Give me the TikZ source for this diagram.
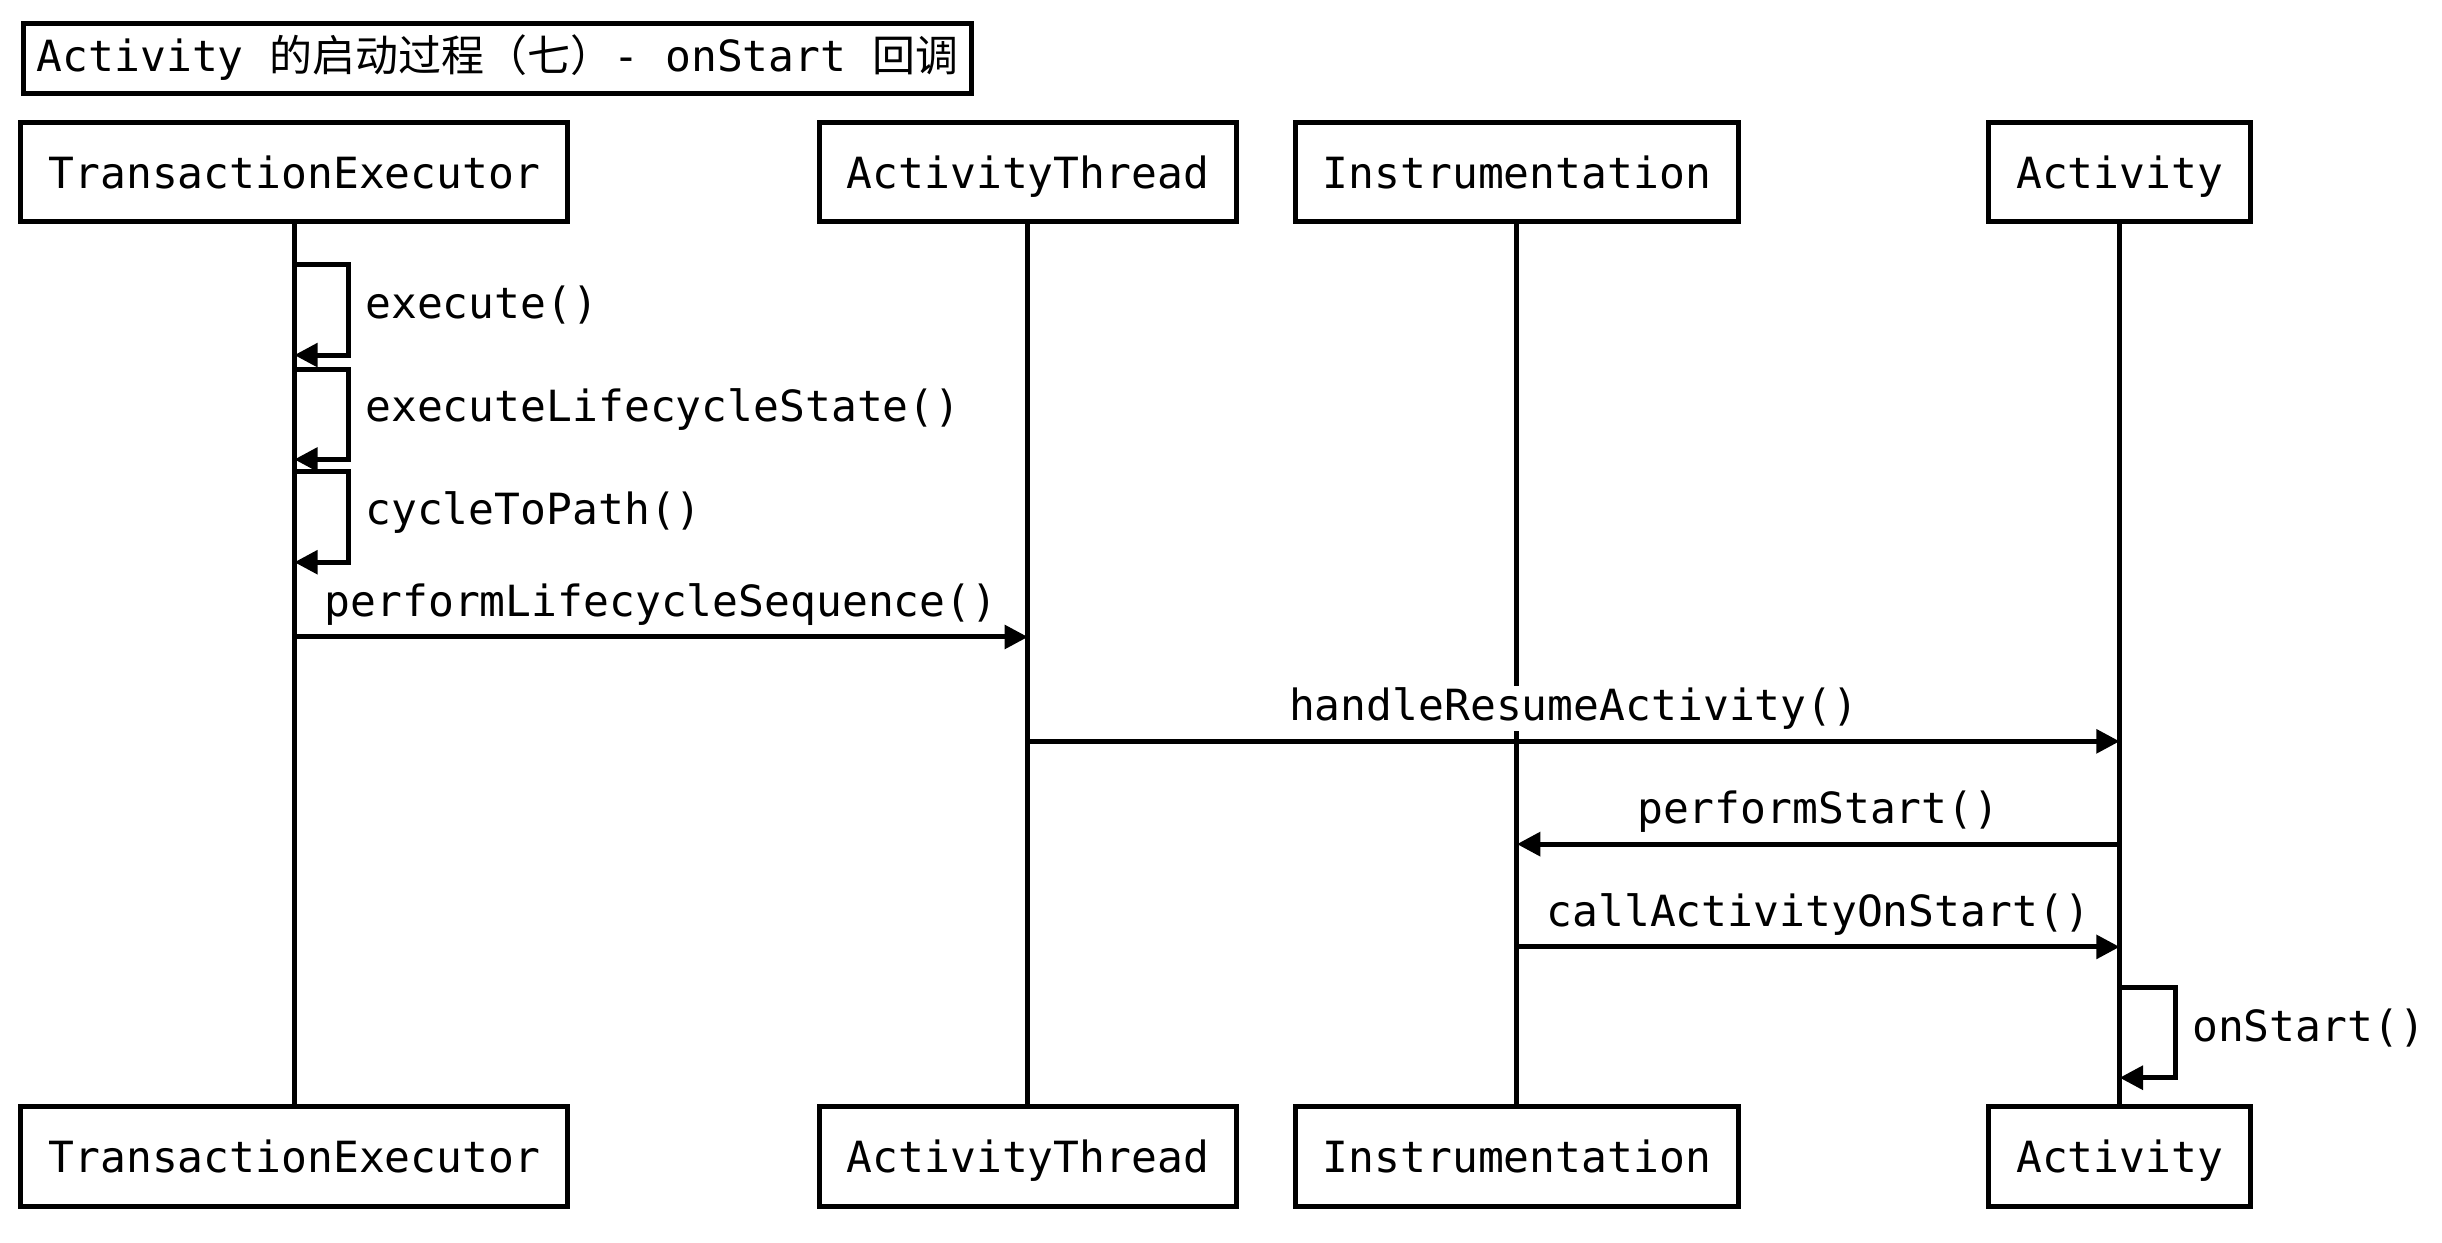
\documentclass[tikz,border=0pt]{standalone}
\usepackage{fontspec}
\setmonofont{DejaVu Sans Mono}
\newfontfamily\cjk{Noto Sans CJK SC}
\usetikzlibrary{arrows.meta}

\begin{document}
\begin{tikzpicture}
	[
		x=0.5pt, y=-0.5pt,
		line width=1.6pt,
		font=\ttfamily\fontsize{13.8}{16}\selectfont,
		Call/.style={draw,-{Triangle[length=7.5pt,width=7.5pt]}},
		Label/.style={fill=white,inner sep=0.5pt}
	]
	
	\tikzstyle{Box} = [
		rectangle, 
		minimum height=32pt, 
		inner xsep=8.9pt, 
		text height=13.5pt,
		text depth=3pt,
		text centered, 
		draw=black, 
		fill=white
	]
	
	\useasboundingbox (0,0) rectangle (1568,797.5);
	
	\node [Box, anchor=north west, minimum height=22.5pt, inner xsep=4.25pt, text height=11pt] (title) at (13.5,13.5)
		{Activity {\cjk 的启动过程（七）}- onStart {\cjk 回调}};
	
	% participants with their lifelines
	\foreach \name/\x/\who in {te/189/TransactionExecutor, at/660/ActivityThread, ins/974/Instrumentation, act/1361/Activity}
	{
		\node [Box] (\name-top) at (\x,110.5) {\who};
		\node [Box] (\name-bot) at (\x,742.5) {\who};
		\draw (\name-top) -- (\name-bot);
	}
	
	% self calls
	\foreach \y/\txt in {170/execute(), 237/executeLifecycleState(), 303/cycleToPath()}
	{
		\coordinate (self-\y) at (te-top |- 0,\y);
		\draw [Call] (self-\y) -- ++(35,0) -- ++(0,58) node [Label, pos=0.45, right=4pt] {\txt} -- ++(-35,0);
	}
	
	\draw [Call] (te-top |- 0,409) -- node [Label, above=2.5pt] {performLifecycleSequence()} (at-top |- 0,409);
	\draw [Call] (at-top |- 0,476) -- node [Label, above=2.5pt] {handleResumeActivity()} (act-top |- 0,476);
	\draw [Call] (act-top |- 0,542) -- node [Label, above=2.5pt] {performStart()} (ins-top |- 0,542);
	\draw [Call] (ins-top |- 0,608) -- node [Label, above=2.5pt] {callActivityOnStart()} (act-top |- 0,608);
	
	\coordinate (self-act) at (act-top |- 0,634);
	\draw [Call] (self-act) -- ++(36,0) -- ++(0,58) node [Label, pos=0.45, right=4pt] {onStart()} -- ++(-36,0);
\end{tikzpicture}
\end{document}
